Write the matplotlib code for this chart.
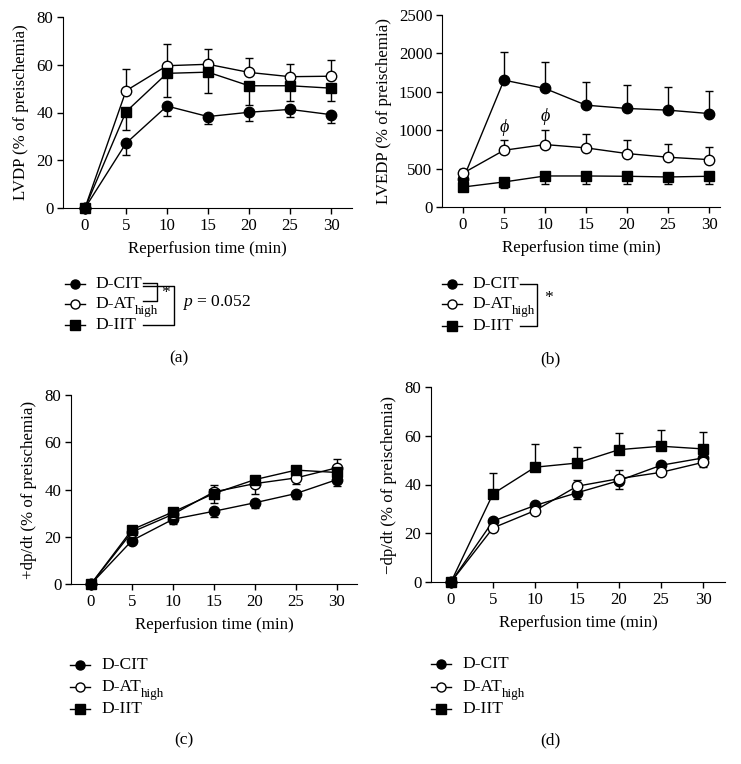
import matplotlib
matplotlib.use("Agg")
import matplotlib.pyplot as plt
from matplotlib.lines import Line2D

plt.rcParams['font.family'] = ['Liberation Serif', 'DejaVu Serif']
plt.rcParams['mathtext.fontset'] = 'custom'
plt.rcParams['mathtext.rm'] = 'Liberation Serif'
plt.rcParams['mathtext.it'] = 'Liberation Serif:italic'
plt.rcParams['font.size'] = 12

# ---------------- data ----------------
times = [0, 5, 10, 15, 20, 25, 30]
series_names = ["D-CIT", "D-AT", "D-IIT"]
series_subs = ["", "high", ""]

# (a) LVDP
lvdp_cit = [0, 27.1, 42.7, 38.3, 40.1, 41.3, 39.1]
lvdp_cit_lo = [0, 5.0, 4.0, 3.3, 3.5, 3.0, 3.6]
lvdp_cit_hi = [0, 0, 0, 0, 0, 0, 0]
lvdp_at = [0, 49.1, 59.6, 60.2, 56.8, 55.0, 55.2]
lvdp_at_lo = [0, 0, 0, 0, 0, 0, 0]
lvdp_at_hi = [0, 9.3, 9.3, 6.6, 6.1, 5.5, 6.9]
lvdp_iit = [0, 40.3, 56.4, 56.9, 51.2, 51.2, 50.2]
lvdp_iit_lo = [0, 7.8, 9.8, 8.6, 8.2, 6.5, 5.3]
lvdp_iit_hi = [0, 0, 0, 0, 0, 0, 0]

# (b) LVEDP
lvedp_cit = [360, 1652, 1543, 1326, 1283, 1261, 1217]
lvedp_cit_lo = [0, 0, 0, 0, 0, 0, 0]
lvedp_cit_hi = [0, 370, 348, 304, 304, 304, 296]
lvedp_at = [440, 739, 813, 770, 696, 648, 617]
lvedp_at_lo = [0, 0, 0, 0, 0, 0, 0]
lvedp_at_hi = [60, 131, 196, 187, 174, 178, 166]
lvedp_iit = [260, 326, 404, 404, 400, 391, 400]
lvedp_iit_lo = [40, 78, 100, 100, 96, 95, 96]
lvedp_iit_hi = [0, 0, 0, 0, 0, 0, 0]

# (c) +dp/dt
pdp_cit = [0, 18.4, 27.4, 30.8, 34.4, 38.3, 44.2]
pdp_cit_lo = [0, 1.2, 1.8, 2.4, 2.4, 2.2, 2.6]
pdp_cit_hi = [0, 0, 0, 0, 0, 0, 0]
pdp_at = [0, 22.0, 29.5, 39.0, 42.5, 44.9, 49.2]
pdp_at_lo = [0, 0.8, 1.0, 2.7, 4.2, 2.4, 1.0]
pdp_at_hi = [0, 0.8, 1.0, 2.7, 1.0, 1.0, 3.8]
pdp_iit = [0, 23.0, 30.5, 38.3, 44.2, 48.2, 47.2]
pdp_iit_lo = [0, 1.0, 1.0, 4.0, 1.0, 1.0, 1.0]
pdp_iit_hi = [0, 0, 0, 0, 0, 0, 0]

# (d) -dp/dt
ndp_cit = [0, 25.0, 31.4, 36.6, 41.6, 47.9, 50.9]
ndp_cit_lo = [0, 1.0, 1.0, 2.4, 3.4, 1.0, 1.5]
ndp_cit_hi = [0, 0, 0, 0, 0, 0, 0]
ndp_at = [0, 22.2, 29.3, 39.3, 42.4, 45.0, 49.1]
ndp_at_lo = [0, 0.5, 0.5, 0, 0, 0.5, 1.9]
ndp_at_hi = [0, 0, 0, 2.4, 3.4, 0.5, 0]
ndp_iit = [0, 36.2, 47.1, 48.8, 54.3, 55.7, 54.6]
ndp_iit_lo = [0, 0, 0, 0, 0, 0, 0]
ndp_iit_hi = [0, 8.5, 9.5, 6.5, 6.8, 6.5, 6.8]

W, H = 741, 764
fig = plt.figure(figsize=(W / 100, H / 100), dpi=100)
renderer = fig.canvas.get_renderer()


def px_axes(x0, y0, x1, y1):
    return fig.add_axes([x0 / W, 1 - y1 / H, (x1 - x0) / W, (y1 - y0) / H])


styles = [dict(marker='o', mfc='black'),
          dict(marker='o', mfc='white'),
          dict(marker='s', mfc='black')]

FS = 12.2


def panel(ax, data, ylabel, ylim, yticks, xlim):
    for (y, lo, hi), st in zip(data, styles):
        ax.errorbar(times, y, yerr=[lo, hi], color='black', lw=1.0,
                    elinewidth=1.0, capsize=2.8, capthick=1.0,
                    marker=st['marker'], mfc=st['mfc'], mec='black',
                    mew=1.0, ms=7.5, zorder=3, clip_on=False)
    ax.set_xlim(*xlim)
    ax.set_ylim(*ylim)
    ax.set_xticks(times)
    ax.set_yticks(yticks)
    ax.spines['top'].set_visible(False)
    ax.spines['right'].set_visible(False)
    ax.tick_params(direction='out', length=4, width=1, labelsize=FS, pad=3)
    ax.set_xlabel("Reperfusion time (min)", fontsize=FS, labelpad=5)
    ax.set_ylabel(ylabel, fontsize=FS, labelpad=5)


ax_a = px_axes(63, 17, 352, 208)
panel(ax_a, [(lvdp_cit, lvdp_cit_lo, lvdp_cit_hi),
             (lvdp_at, lvdp_at_lo, lvdp_at_hi),
             (lvdp_iit, lvdp_iit_lo, lvdp_iit_hi)],
      "LVDP (% of preischemia)", (0, 80), [0, 20, 40, 60, 80], (-2.68, 32.56))

ax_b = px_axes(442, 15, 720, 207)
panel(ax_b, [(lvedp_cit, lvedp_cit_lo, lvedp_cit_hi),
             (lvedp_at, lvedp_at_lo, lvedp_at_hi),
             (lvedp_iit, lvedp_iit_lo, lvedp_iit_hi)],
      "LVEDP (% of preischemia)", (0, 2500), [0, 500, 1000, 1500, 2000, 2500],
      (-2.56, 31.34))
phi_x = [5, 10]
phi_y = [1040, 1175]
for xx, yy in zip(phi_x, phi_y):
    ax_b.text(xx, yy, "ϕ", ha='center', va='center', fontsize=13,
              style='italic')

ax_c = px_axes(71, 395, 357, 584)
panel(ax_c, [(pdp_cit, pdp_cit_lo, pdp_cit_hi),
             (pdp_at, pdp_at_lo, pdp_at_hi),
             (pdp_iit, pdp_iit_lo, pdp_iit_hi)],
      "+dp/dt (% of preischemia)", (0, 80), [0, 20, 40, 60, 80], (-2.44, 32.44))

ax_d = px_axes(431, 387, 725, 582)
panel(ax_d, [(ndp_cit, ndp_cit_lo, ndp_cit_hi),
             (ndp_at, ndp_at_lo, ndp_at_hi),
             (ndp_iit, ndp_iit_lo, ndp_iit_hi)],
      "\u2212dp/dt (% of preischemia)", (0, 80), [0, 20, 40, 60, 80],
      (-2.38, 32.6))


# ---------------- legends ----------------
def fx(x):
    return x / W


def fy(y):
    return 1 - y / H


LFS = 12.6


def legend(mx, tx, rows):
    for name, sub, st, ry in zip(series_names, series_subs, styles, rows):
        fig.add_artist(Line2D([fx(mx - 10), fx(mx + 10)], [fy(ry), fy(ry)],
                              color='black', lw=1.0))
        fig.add_artist(Line2D([fx(mx)], [fy(ry)], marker=st['marker'],
                              mfc=st['mfc'], mec='black', mew=1.0, ms=6.5,
                              color='black'))
        t = fig.text(fx(tx), fy(ry), name, ha='left', va='center',
                     fontsize=LFS)
        if sub:
            bb = t.get_window_extent(renderer=renderer)
            fig.text(fx(tx + bb.width), fy(ry + 7), sub, ha='left',
                     va='center', fontsize=LFS * 0.75)


def seg(xs, ys):
    fig.add_artist(Line2D([fx(x) for x in xs], [fy(y) for y in ys],
                          color='black', lw=1.0))


legend(75, 95, [284, 304, 325])
# brackets for (a)
seg([143, 157, 157, 143], [283, 283, 301, 301])
seg([143, 174, 174, 143], [286, 286, 325, 325])
fig.text(fx(161), fy(293), "*", ha='left', va='center', fontsize=LFS)
fig.text(fx(182), fy(302), "$p$ = 0.052", ha='left', va='center', fontsize=LFS)
fig.text(fx(179), fy(358), "(a)", ha='center', va='center', fontsize=LFS)

legend(452, 472, [284, 304, 326])
seg([520, 537, 537, 520], [284, 284, 326, 326])
fig.text(fx(544), fy(298), "*", ha='left', va='center', fontsize=LFS)
fig.text(fx(550), fy(359), "(b)", ha='center', va='center', fontsize=LFS)

legend(80, 101, [665, 687, 709])
fig.text(fx(184), fy(740), "(c)", ha='center', va='center', fontsize=LFS)

legend(441, 462, [664, 687, 709])
fig.text(fx(550), fy(740), "(d)", ha='center', va='center', fontsize=LFS)

fig.savefig("out.png", dpi=100)
